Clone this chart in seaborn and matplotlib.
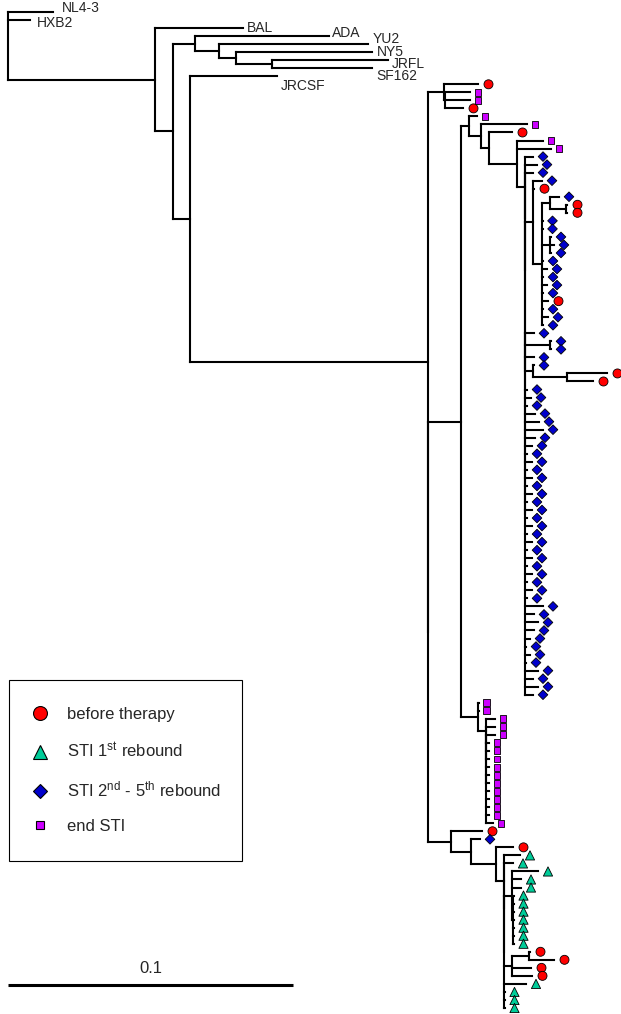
import matplotlib
matplotlib.use("Agg")
import matplotlib.pyplot as plt
import numpy as np
import pandas as pd
import seaborn as sns
from matplotlib.collections import LineCollection
from matplotlib.lines import Line2D

# ---------------- data ----------------
# leaf categories (leaf codes used in the Newick pieces below)
CATEGORIES = ["before therapy", "STI 1st rebound", "STI 2nd - 5th rebound", "end STI"]
LEGEND_LABELS = ["before therapy", "STI 1$^{\\mathrm{st}}$ rebound",
                 "STI 2$^{\\mathrm{nd}}$ - 5$^{\\mathrm{th}}$ rebound", "end STI"]
LEAF_CODES = {"B": "before therapy", "F": "STI 1st rebound",
              "L": "STI 2nd - 5th rebound", "E": "end STI"}

# branch lengths are given in units of 1/2850 substitutions per site
UNITS_PER_SUBST = 2850.0
SCALE_BAR_VALUE = 0.1

TREE_ROOT = ("(NL4-3:45,HXB2:22,(BAL:88,((ADA:134,(YU2:149,(NY5:136,(JRFL:116,SF162:100):36):17):24):22,"
             "(JRCSF:87,{PATIENT}:238):17):18):147);")
PATIENT = "({CLADE_A}:16,({CLADE_461}:33,{BOTTOM}:23):0)"
CLADE_A = "(B:34,(E:25,E:25,B:18):1)"
CLADE_461 = "({UPPER}:8,{MAGENTA}:17)"
UPPER = "(E:8,(E:46,(B:23,(E:26,E:34,{BLUE}:8):28):8):12)"
BLUE = "(L:8,(L:12,(L:8,({N533}:8,{REST}:0):0):0):0)"
N533 = "(L:9,B:1,{N542}:9)"
N542 = ("((L:9,(B:1,B:1):16):8,L:0.5,L:0.5,(L:1,L:4,L:1):8,L:1,L:5,L:1,L:5,L:1,B:6,L:1,L:6,L:1)")
REST = ("(L:9,(L:1,L:1):25,L:9,(L:1,(B:40,B:26):34):8,L:2,L:6,L:2,L:10,L:14,L:18,L:10,"
        "L:7,L:2,L:7,L:2,L:7,L:2,L:7,L:2,L:7,L:2,L:7,L:2,L:7,L:2,L:7,L:2,L:7,L:2,L:7,L:2,"
        "L:18,L:9,L:13,L:9,L:5,L:1,L:5,L:1,L:13,L:8,L:13,L:8)")
MAGENTA = ("(E:0.5,E:0.5,(E:9,(E:9,(E:9,(E:3,E:3,E:3,E:3,E:3,E:3,E:3,E:3,E:3,E:3,E:7):0):0):0):8)")
BOTTOM = "(B:31,(L:9,(B:17,(F:16,(F:9,({N512A}:8,{N512B}:8,F:22,F:0.5,F:0.5,F:0.5):0):0):8):25):20)"
N512A = "(F:26,F:9,F:9,(F:0.5,F:0.5,F:0.5,F:0.5,F:0.5,F:0.5,F:0.5):1)"
N512B = "((B:1,B:25):17,B:19,B:20)"

PIECES = dict(PATIENT=PATIENT, CLADE_A=CLADE_A, CLADE_461=CLADE_461, UPPER=UPPER, BLUE=BLUE,
              N533=N533, N542=N542, REST=REST, MAGENTA=MAGENTA, BOTTOM=BOTTOM,
              N512A=N512A, N512B=N512B)

# ---------------- style ----------------
PALETTE = {"before therapy": "#FF0000", "STI 1st rebound": "#00CC99",
           "STI 2nd - 5th rebound": "#0000CC", "end STI": "#CC00FF"}
MARKERS = {"before therapy": "o", "STI 1st rebound": "^",
           "STI 2nd - 5th rebound": "D", "end STI": "s"}
SIZES = {"before therapy": 42, "STI 1st rebound": 44, "STI 2nd - 5th rebound": 24, "end STI": 25}
LEG_MS = {"before therapy": 10, "STI 1st rebound": 9.5, "STI 2nd - 5th rebound": 7, "end STI": 5.5}
GAP_PX = {"before therapy": 10.5, "STI 1st rebound": 10, "STI 2nd - 5th rebound": 10, "end STI": 8}
# label placement relative to the branch tip (dx, dy) in pixels
LABEL_OFFSET_PX = {"NL4-3": (9, -4), "HXB2": (7, 3), "BAL": (4, 0), "ADA": (3, -3),
                   "YU2": (5, -5), "NY5": (5, 0), "JRFL": (4, 4), "SF162": (4, 8),
                   "JRCSF": (4, 10)}

W, H = 621, 1014
ROOT_PX = 8
FIRST_LEAF_PX, LAST_LEAF_PX = 12, 1008

sns.set_style("white")
plt.rcParams["font.family"] = ["Liberation Sans", "DejaVu Sans"]
plt.rcParams["mathtext.fontset"] = "custom"
plt.rcParams["mathtext.rm"] = "Liberation Sans"
plt.rcParams["mathtext.it"] = "Liberation Sans:italic"
plt.rcParams["mathtext.bf"] = "Liberation Sans:bold"


def expand(s):
    while "{" in s:
        for k, v in PIECES.items():
            s = s.replace("{" + k + "}", v)
    return s


def parse(s):
    pos = 0

    def node():
        nonlocal pos
        children = []
        if s[pos] == "(":
            pos += 1
            while True:
                children.append(node())
                if s[pos] == ",":
                    pos += 1
                    continue
                if s[pos] == ")":
                    pos += 1
                    break
        st = pos
        while pos < len(s) and s[pos] not in ":,);":
            pos += 1
        name = s[st:pos]
        length = 0.0
        if pos < len(s) and s[pos] == ":":
            pos += 1
            st = pos
            while s[pos] not in ",);":
                pos += 1
            length = float(s[st:pos])
        return {"name": name, "len": length, "children": children}

    return node()


tree = parse(expand(TREE_ROOT))
leaves = []


def layout(n, x0):
    n["x"] = x0 + n["len"] / UNITS_PER_SUBST
    if n["children"]:
        for c in n["children"]:
            layout(c, n["x"])
        n["y"] = (n["children"][0]["y"] + n["children"][-1]["y"]) / 2.0
    else:
        n["y"] = float(len(leaves))
        leaves.append(n)


layout(tree, 0.0)

segs = []


def collect(n, parent_x=None):
    if parent_x is not None:
        segs.append([(parent_x, n["y"]), (n["x"], n["y"])])
    if n["children"]:
        segs.append([(n["x"], n["children"][0]["y"]), (n["x"], n["children"][-1]["y"])])
        for c in n["children"]:
            collect(c, n["x"])


collect(tree)

nleaf = len(leaves)
sp = (LAST_LEAF_PX - FIRST_LEAF_PX) / (nleaf - 1)
px = 1.0 / UNITS_PER_SUBST  # one pixel in data units along x

fig = plt.figure(figsize=(W / 100, H / 100), dpi=100)
ax = fig.add_axes([0, 0, 1, 1])

lc = LineCollection(segs, colors="black", linewidths=1.5, capstyle="projecting", zorder=1)
ax.add_collection(lc)

rows = []
for lf in leaves:
    if lf["name"] in LEAF_CODES:
        cat = LEAF_CODES[lf["name"]]
        rows.append({"x": lf["x"] + GAP_PX[cat] * px, "y": lf["y"], "category": cat})
    else:
        dx, dy = LABEL_OFFSET_PX.get(lf["name"], (4, 0))
        ax.text(lf["x"] + dx * px, lf["y"] + dy / sp, lf["name"], fontsize=10,
                va="center", ha="left")
df = pd.DataFrame(rows)

sns.scatterplot(data=df, x="x", y="y", hue="category", style="category", size="category",
                palette=PALETTE, markers=MARKERS, sizes=SIZES, hue_order=CATEGORIES,
                style_order=CATEGORIES, size_order=CATEGORIES, edgecolor="black",
                linewidth=0.6, legend=False, ax=ax, zorder=3)

# scale bar
bar_y = (985 - FIRST_LEAF_PX) / sp
ax.plot([0, SCALE_BAR_VALUE], [bar_y, bar_y], color="black", lw=2.2, solid_capstyle="butt")
ax.text(SCALE_BAR_VALUE / 2, bar_y - 1.1, "0.1", fontsize=12, ha="center", va="bottom")

ax.set_xlim(-ROOT_PX * px, (W - ROOT_PX) * px)
ax.set_ylim((H - FIRST_LEAF_PX) / sp, -FIRST_LEAF_PX / sp)
ax.axis("off")

handles = [Line2D([], [], linestyle="none", marker=MARKERS[c], markersize=LEG_MS[c],
                  markerfacecolor=PALETTE[c], markeredgecolor="black", markeredgewidth=0.8)
           for c in CATEGORIES]
leg = ax.legend(handles, LEGEND_LABELS, loc="upper left", mode="expand",
                bbox_to_anchor=(9 / W, 1 - 858 / H, 233 / W, 178 / H), bbox_transform=fig.transFigure,
                fontsize=12, frameon=True, fancybox=False, framealpha=1, edgecolor="black",
                borderpad=1.6, labelspacing=1.16, handlelength=0.52, handletextpad=1.36,
                borderaxespad=0)
leg.get_frame().set_linewidth(0.8)

fig.savefig("out.png", dpi=100)
